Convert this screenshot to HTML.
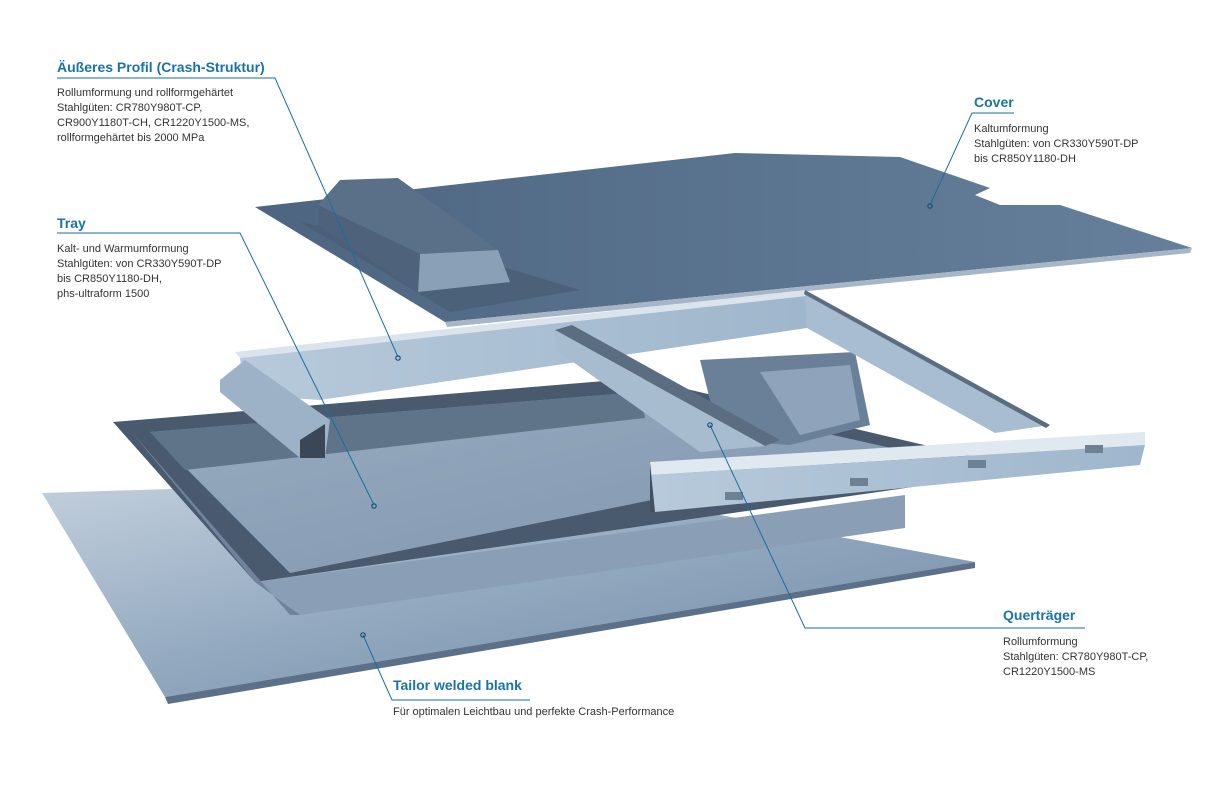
<!DOCTYPE html>
<html><head><meta charset="utf-8"><style>
html,body{margin:0;padding:0;background:#fff;}
body{width:1220px;height:800px;position:relative;overflow:hidden;font-family:"Liberation Sans",sans-serif;}
.t{position:absolute;color:#1a73a8;font-weight:bold;font-size:14px;}
.b{position:absolute;color:#333;font-size:11px;line-height:15px;}
svg{position:absolute;left:0;top:0;}
</style></head><body>
<svg width="1220" height="800" viewBox="0 0 1220 800">
<defs>
<linearGradient id="gb" x1="0" y1="0" x2="1" y2="1"><stop offset="0" stop-color="#c3d0dd"/><stop offset="0.5" stop-color="#92a8bf"/><stop offset="1" stop-color="#7088a3"/></linearGradient>
<linearGradient id="gc" x1="0" y1="0" x2="1" y2="0"><stop offset="0" stop-color="#4d6580"/><stop offset="1" stop-color="#66809c"/></linearGradient>
<linearGradient id="gt" x1="0" y1="0" x2="1" y2="1"><stop offset="0" stop-color="#97abc0"/><stop offset="1" stop-color="#8196ae"/></linearGradient>
<linearGradient id="gf" x1="0" y1="0" x2="1" y2="0"><stop offset="0" stop-color="#b7cadb"/><stop offset="1" stop-color="#9fb6cc"/></linearGradient>
</defs>
<!-- blank -->
<polygon points="42,493 520,478 975,562 165,697" fill="url(#gb)"/>
<polygon points="165,697 975,562 975,568 168,704" fill="#5c7089"/>
<!-- tray -->
<polygon points="113,422 640,378 1030,470 255,582" fill="#4a5a6e"/>
<polygon points="150,432 640,392 900,450 290,573" fill="url(#gt)"/>
<polygon points="150,432 640,392 645,418 185,470" fill="#5f7389"/>
<polygon points="255,582 905,495 905,528 300,615" fill="#8a9fb5"/>
<polygon points="255,582 300,615 290,615 130,430" fill="#6f849c"/>
<!-- cover -->
<polygon points="255,207 735,153 900,157 990,188 975,195 1000,205 1060,205 1192,248 445,322" fill="url(#gc)"/>
<polygon points="445,322 1192,248 1190,253 447,327" fill="#a6b6c6"/>
<polygon points="300,222 480,260 580,290 450,312 300,222" fill="#4a5e76" opacity="0.8"/>
<!-- bump -->
<polygon points="318,205 340,180 398,178 498,250 420,254" fill="#5a7089"/>
<polygon points="420,254 498,250 510,282 418,292" fill="#8aa0b6"/>
<polygon points="318,205 420,254 418,292 318,225" fill="#4e637b"/>
<!-- pocket visible in frame -->
<polygon points="700,360 855,352 870,425 790,445 720,440" fill="#6a8099"/>
<polygon points="760,372 850,365 860,420 800,435" fill="#8fa4ba"/>
<!-- frame back rail -->
<polygon points="235,352 805,290 806,296 240,358" fill="#dbe4ed"/>
<polygon points="240,358 806,296 807,328 320,400 245,395" fill="url(#gf)"/>
<!-- frame right rail -->
<polygon points="805,290 1050,425 995,433 807,328" fill="#a8bdd1"/>
<polygon points="805,290 1050,425 1046,428 804,294" fill="#5b6d80"/>
<!-- left rail -->
<polygon points="220,380 245,360 330,420 325,458 300,458 220,392" fill="#9db2c7"/>
<polygon points="300,440 325,424 325,458 300,458" fill="#3a4756"/>
<!-- cross beam -->
<polygon points="555,330 572,325 780,440 765,446" fill="#5b6d80"/>
<polygon points="555,330 765,446 700,452 556,350" fill="#a8bccf"/>
<!-- front rail -->
<polygon points="650,462 1145,432 1145,445 650,475" fill="#e0e8f0"/>
<polygon points="650,475 1145,445 1140,465 655,512" fill="url(#gf)"/>
<polygon points="650,462 655,512 650,512" fill="#44505e"/>
<g fill="#6d8094"><rect x="725" y="492" width="18" height="8"/><rect x="850" y="478" width="18" height="8"/><rect x="968" y="460" width="18" height="8"/><rect x="1085" y="445" width="18" height="8"/></g>
<!-- leaders -->
<g stroke="#1a6e9e" stroke-width="1" fill="none">
<polyline points="57,78 275,78 398,357"/>
<polyline points="57,233 240,233 374,505"/>
<polyline points="1014,113 972,113 930,205"/>
<polyline points="1085,628 805,628 710,425"/>
<polyline points="530,700 392,700 363,635"/>
</g>
<g fill="none" stroke="#1a4f78" stroke-width="1.2">
<circle cx="398" cy="358" r="2.2"/><circle cx="374" cy="506" r="2.2"/><circle cx="930" cy="206" r="2.2"/><circle cx="710" cy="425" r="2.2"/><circle cx="363" cy="635" r="2.2"/>
</g>
</svg>
<div class="t" style="left:57px;top:59px">Äußeres Profil (Crash-Struktur)</div>
<div class="b" style="left:57px;top:86px">Rollumformung und rollformgehärtet<br>Stahlgüten: CR780Y980T-CP,<br>CR900Y1180T-CH, CR1220Y1500-MS,<br>rollformgehärtet bis 2000 MPa</div>
<div class="t" style="left:57px;top:215px">Tray</div>
<div class="b" style="left:57px;top:242px">Kalt- und Warmumformung<br>Stahlgüten: von CR330Y590T-DP<br>bis CR850Y1180-DH,<br>phs-ultraform 1500</div>
<div class="t" style="left:974px;top:94px">Cover</div>
<div class="b" style="left:974px;top:122px">Kaltumformung<br>Stahlgüten: von CR330Y590T-DP<br>bis CR850Y1180-DH</div>
<div class="t" style="left:1003px;top:607px">Querträger</div>
<div class="b" style="left:1003px;top:635px">Rollumformung<br>Stahlgüten: CR780Y980T-CP,<br>CR1220Y1500-MS</div>
<div class="t" style="left:393px;top:677px">Tailor welded blank</div>
<div class="b" style="left:393px;top:705px">Für optimalen Leichtbau und perfekte Crash-Performance</div>
</body></html>
